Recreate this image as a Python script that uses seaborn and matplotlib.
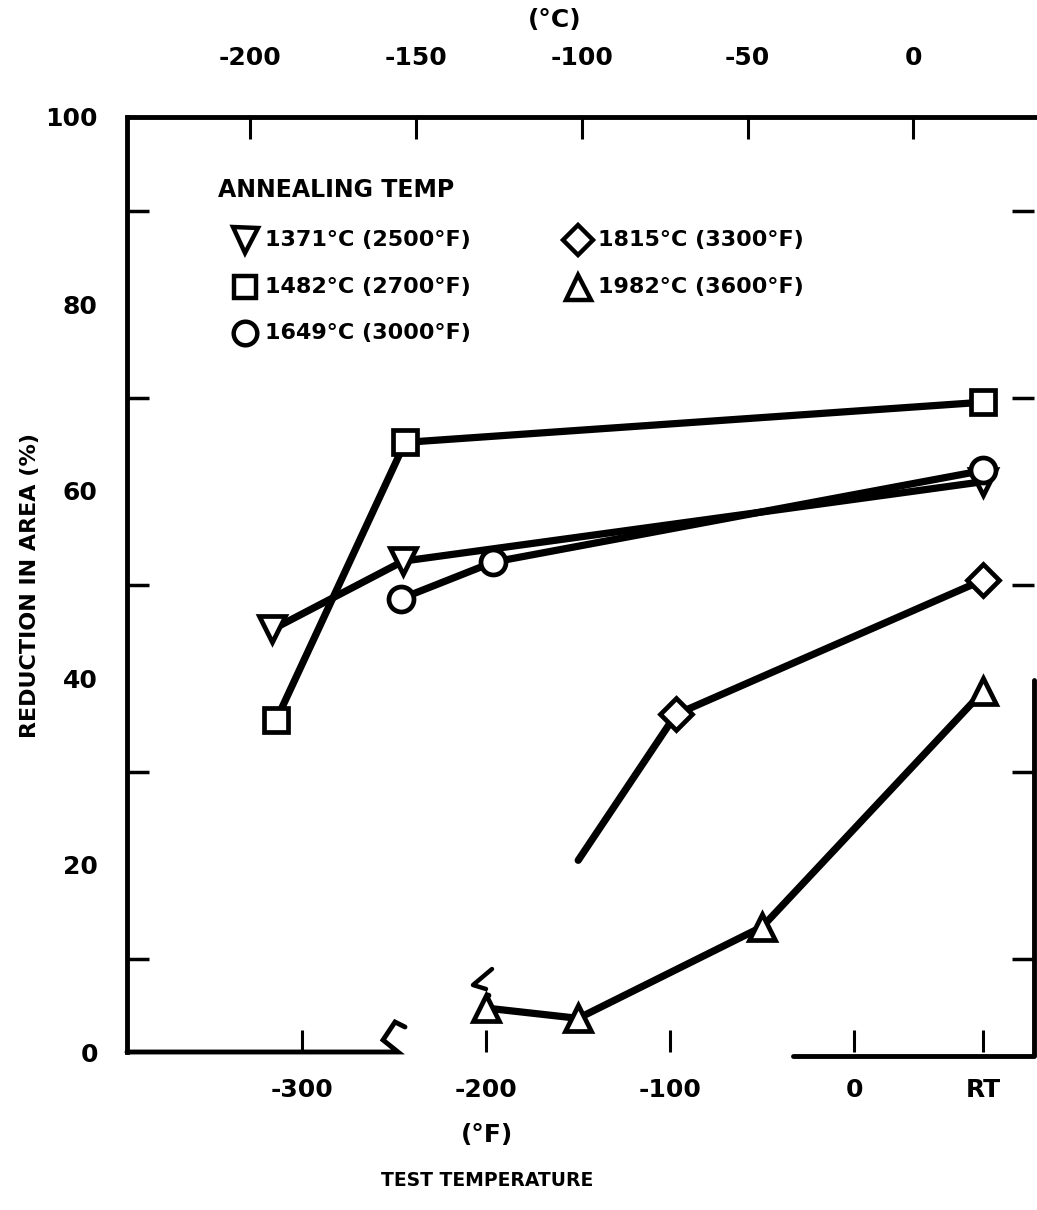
import numpy as np
import pandas as pd
import matplotlib
matplotlib.use("Agg")
import matplotlib.pyplot as plt
import seaborn as sns

# ---------------- data ----------------
series_names = ["1371°C (2500°F)", "1482°C (2700°F)", "1649°C (3000°F)",
                "1815°C (3300°F)", "1982°C (3600°F)"]
series_markers = ["v", "s", "o", "D", "^"]

t1371_x = [-316, -245, 70]
t1371_y = [45.2, 52.5, 61.0]
t1482_x = [-314, -244, 70]
t1482_y = [35.5, 65.2, 69.5]
t1649_x = [-246, -196, 70]
t1649_y = [48.5, 52.4, 62.2]
t1815_x = [-150, -97, 70]
t1815_y = [20.5, 36.1, 50.5]
t1982_x = [-200, -150, -50, 70]
t1982_y = [4.7, 3.6, 13.4, 38.6]

f_ticks = [-300, -200, -100, 0, 70]
f_tick_labels = ["-300", "-200", "-100", "0", "RT"]
c_ticks = [-200, -150, -100, -50, 0]
y_ticks = [0, 20, 40, 60, 80, 100]

# ---------------- style ----------------
sns.set_theme(style="white")
plt.rcParams["font.family"] = ["DejaVu Sans"]
plt.rcParams["font.weight"] = "bold"
plt.rcParams["text.color"] = "black"
plt.rcParams["xtick.color"] = "black"
plt.rcParams["ytick.color"] = "black"
plt.rcParams["xtick.labelcolor"] = "black"
plt.rcParams["ytick.labelcolor"] = "black"

W, H = 1037, 1210
fig = plt.figure(figsize=(W / 100, H / 100), dpi=100)
L, R, T, B = 127, 1034, 117, 1052
ax = fig.add_axes([L / W, 1 - B / H, (R - L) / W, (B - T) / H])
ax.set_xlim(-395, 97.5)
ax.set_ylim(0, 100)

data = [
    (t1371_x, t1371_y, None),
    (t1482_x, t1482_y, None),
    (t1649_x, t1649_y, None),
    (t1815_x, t1815_y, [1, 2]),
    (t1982_x, t1982_y, None),
]
msizes = {"v": 19, "s": 17, "o": 18, "D": 16, "^": 19}
for (xs, ys, mev), m, name in zip(data, series_markers, series_names):
    df = pd.DataFrame({"x": xs, "y": ys})
    kw = dict(marker=m, markersize=msizes[m], markerfacecolor="white",
              markeredgecolor="black", markeredgewidth=3.4)
    if mev is not None:
        kw["markevery"] = mev
    sns.lineplot(data=df, x="x", y="y", ax=ax, color="black", lw=5.2,
                 sort=False, estimator=None, legend=False, **kw)

# spines
for s in ax.spines.values():
    s.set_visible(False)
lw_sp = 3.5
ax.plot([0, 0], [0, 1], transform=ax.transAxes, color="black", lw=lw_sp,
        solid_capstyle="projecting", clip_on=False)
ax.plot([0, 1.01], [1, 1], transform=ax.transAxes, color="black", lw=lw_sp,
        clip_on=False)
# bottom axis, broken
bx = lambda px: (px - L) / (R - L)
by = lambda py: (B - py) / (B - T)
ax.plot([0, bx(398), bx(383), bx(395), bx(405)],
        [0, 0, by(1040), by(1022), by(1027)],
        transform=ax.transAxes, color="black", lw=lw_sp, clip_on=False,
        solid_joinstyle="miter")
ax.plot([bx(492), bx(473), bx(486)], [by(969), by(985), by(989)],
        transform=ax.transAxes, color="black", lw=3.2, clip_on=False)
ax.plot([bx(488)], [by(995)], transform=ax.transAxes, marker="o",
        markersize=3, color="black", clip_on=False)
ax.plot([bx(793), 1, 1], [by(1056), by(1056), by(680)],
        transform=ax.transAxes, color="black", lw=lw_sp, clip_on=False)

# ticks
ax.set_xticks(f_ticks)
ax.set_xticklabels(f_tick_labels)
ax.set_yticks(y_ticks)
ax.set_yticks([10, 20, 30, 40, 50, 60, 70, 80, 90], minor=True)
ax.tick_params(axis="x", which="major", direction="in", length=16, width=2.2,
               pad=19, labelsize=18, bottom=True, top=False)
ax.tick_params(axis="y", which="major", direction="in", length=0,
               pad=21, labelsize=18, left=True, right=False)
ax.tick_params(axis="y", which="minor", direction="in", length=16, width=2.5,
               left=True, right=True)
for lab in ax.get_xticklabels() + ax.get_yticklabels():
    lab.set_fontweight("bold")

sec = ax.secondary_xaxis("top", functions=(lambda f: (f - 32) * 5 / 9,
                                            lambda c: c * 9 / 5 + 32))
sec.set_xticks(c_ticks)
sec.set_xticklabels([str(c) for c in c_ticks])
sec.tick_params(direction="in", length=16, width=2.2, pad=34, labelsize=18)
for lab in sec.get_xticklabels():
    lab.set_fontweight("bold")
for s in sec.spines.values():
    s.set_visible(False)

ax.set_xlabel("")
ax.set_ylabel("")
fig.text(30 / W, 1 - 585 / H, "REDUCTION IN AREA (%)", rotation=90,
         ha="center", va="center", fontsize=16, fontweight="bold")
fig.text(555 / W, 1 - 20 / H, "(°C)", ha="center", va="center",
         fontsize=18, fontweight="bold")
fig.text(487 / W, 1 - 1135 / H, "(°F)", ha="center", va="center",
         fontsize=18, fontweight="bold")
fig.text(487 / W, 1 - 1180 / H, "TEST TEMPERATURE", ha="center",
         va="center", fontsize=13.5, fontweight="bold")

# legend (manual layout)
ax.text(bx(218), by(190), "ANNEALING TEMP", transform=ax.transAxes,
        ha="left", va="center", fontsize=17, fontweight="bold")
pos = [(245, 240), (245, 287), (245, 333), (578, 240), (578, 287)]
for (px, py), m, name in zip(pos, series_markers, series_names):
    ax.plot([bx(px)], [by(py)], transform=ax.transAxes, marker=m,
            markersize=msizes[m] - 1, markerfacecolor="white",
            markeredgecolor="black", markeredgewidth=3.2, clip_on=False)
    ax.text(bx(px + 20), by(py), name, transform=ax.transAxes, ha="left",
            va="center", fontsize=16, fontweight="bold")

fig.savefig("out.png", dpi=100, facecolor="white")
